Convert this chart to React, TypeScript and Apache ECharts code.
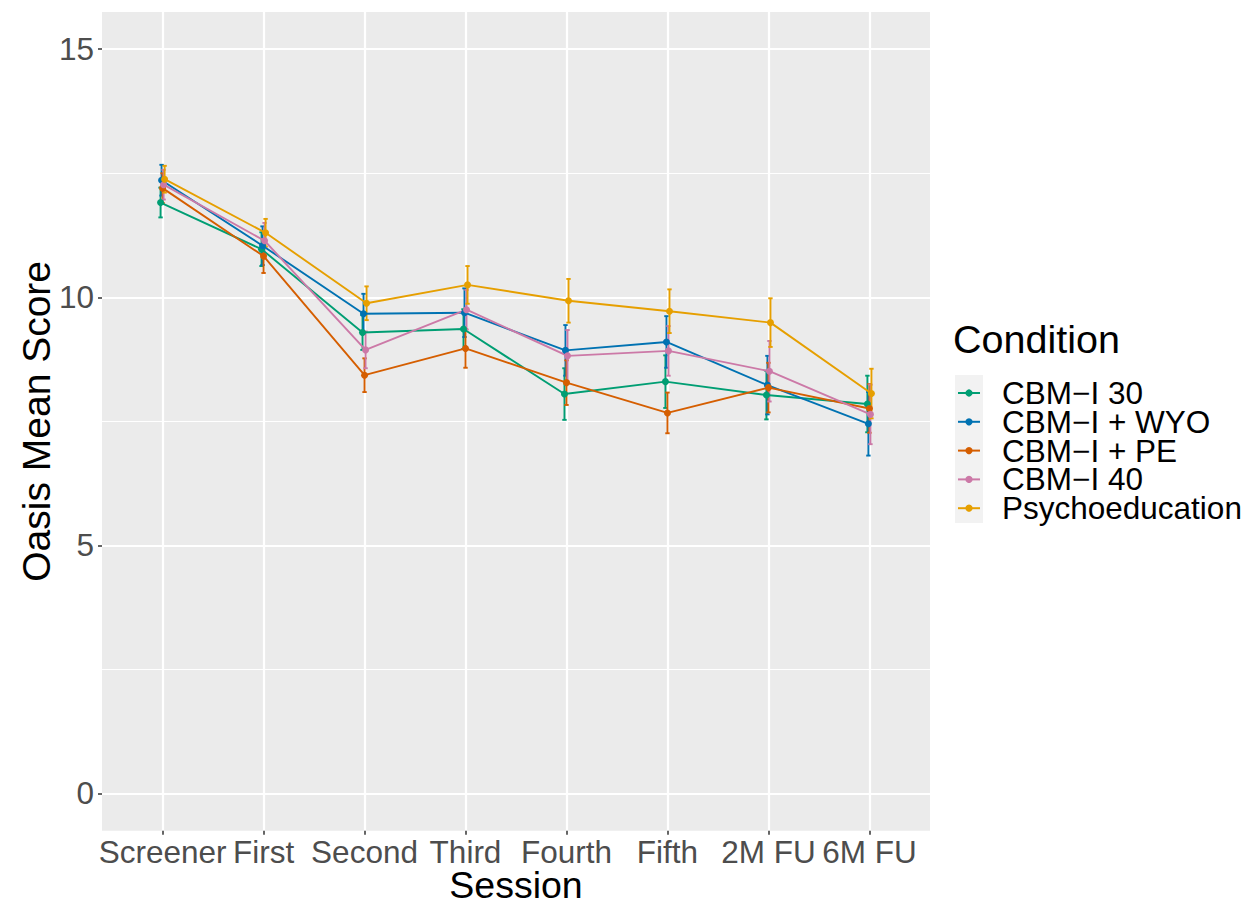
import React, { useEffect, useRef } from "react";
import * as echarts from "echarts";

const sessions = ["Screener", "First", "Second", "Third", "Fourth", "Fifth", "2M FU", "6M FU"];
const conditions = ["CBM−I 30", "CBM−I + WYO", "CBM−I + PE", "CBM−I 40", "Psychoeducation"];
const colors = ["#009E73", "#0072B2", "#D55E00", "#CC79A7", "#E69F00"];
const yTicks = [0, 5, 10, 15];

const meanCBM30 = [11.91, 10.97, 9.29, 9.36, 8.05, 8.3, 8.03, 7.85];
const seCBM30 = [0.3, 0.34, 0.35, 0.4, 0.52, 0.53, 0.49, 0.57];
const meanWYO = [12.36, 11.04, 9.67, 9.69, 8.93, 9.1, 8.23, 7.45];
const seWYO = [0.31, 0.39, 0.4, 0.49, 0.51, 0.52, 0.59, 0.64];
const meanPE = [12.2, 10.83, 8.43, 8.97, 8.28, 7.67, 8.18, 7.76];
const sePE = [0.3, 0.34, 0.34, 0.39, 0.45, 0.41, 0.5, 0.49];
const meanCBM40 = [12.27, 11.14, 8.94, 9.75, 8.82, 8.92, 8.51, 7.64];
const seCBM40 = [0.3, 0.36, 0.37, 0.4, 0.52, 0.5, 0.61, 0.6];
const meanPsy = [12.38, 11.3, 9.88, 10.25, 9.93, 9.72, 9.49, 8.06];
const sePsy = [0.27, 0.28, 0.34, 0.38, 0.44, 0.44, 0.49, 0.5];

const means = [meanCBM30, meanWYO, meanPE, meanCBM40, meanPsy];
const ses = [seCBM30, seWYO, sePE, seCBM40, sePsy];

const FONT = '"Liberation Sans", Arial, Helvetica, sans-serif';

export default function App() {
  const ref = useRef<HTMLDivElement>(null);
  useEffect(() => {
    if (!ref.current) return;
    const chart = echarts.init(ref.current, null, { renderer: "svg" });
    const dodgeStep = 0.01;
    const series: any[] = [];
    conditions.forEach((name, i) => {
      const off = (i - 2) * dodgeStep;
      series.push({
        type: "line",
        name,
        xAxisIndex: 0,
        yAxisIndex: 0,
        data: means[i].map((m, j) => [j + 1 + off, m]),
        symbol: "circle",
        symbolSize: 7,
        showSymbol: true,
        lineStyle: { width: 1.9, color: colors[i] },
        itemStyle: { color: colors[i] },
        emphasis: { disabled: true },
        z: 3,
      });
    });
    conditions.forEach((name, i) => {
      const off = (i - 2) * dodgeStep;
      const color = colors[i];
      series.push({
        type: "custom",
        name,
        xAxisIndex: 0,
        yAxisIndex: 0,
        data: means[i].map((m, j) => [j + 1 + off, m - ses[i][j], m + ses[i][j]]),
        encode: { x: 0, y: [1, 2] },
        z: 3,
        renderItem: (params: any, api: any) => {
          const x = api.value(0);
          const lo = api.coord([x, api.value(1)]);
          const hi = api.coord([x, api.value(2)]);
          const w = 2.2;
          const st = { stroke: color, lineWidth: 1.9 };
          return {
            type: "group",
            children: [
              { type: "line", shape: { x1: lo[0], y1: lo[1], x2: hi[0], y2: hi[1] }, style: st },
              { type: "line", shape: { x1: lo[0] - w, y1: lo[1], x2: lo[0] + w, y2: lo[1] }, style: st },
              { type: "line", shape: { x1: hi[0] - w, y1: hi[1], x2: hi[0] + w, y2: hi[1] }, style: st },
            ],
          };
        },
      });
    });

    const panelLeft = 102;
    const panelTop = 12;
    const panelW = 828;
    const panelH = 818.7;
    const unit = panelW / 8.2;

    chart.setOption({
      animation: false,
      textStyle: { fontFamily: FONT },
      title: {
        text: "Condition",
        left: 948,
        top: 313.5,
        textStyle: { fontSize: 39.5, fontWeight: "normal", color: "#000", fontFamily: FONT },
      },
      graphic: [
        {
          type: "rect",
          left: 955,
          top: 375,
          shape: { width: 28, height: 148 },
          style: { fill: "#F2F2F2" },
          z: 0,
        },
      ],
      legend: {
        orient: "vertical",
        left: 957,
        top: 377,
        padding: 0,
        itemGap: -3.2,
        itemWidth: 22,
        itemHeight: 9,
        selectedMode: false,
        data: conditions,
        z: 5,
        textStyle: {
          fontSize: 31.5,
          color: "#000",
          padding: [0, 0, 0, 17],
          fontFamily: FONT,
        },
      },
      grid: [
        {
          left: panelLeft,
          top: panelTop,
          width: panelW,
          height: panelH,
          show: true,
          backgroundColor: "#EBEBEB",
          borderWidth: 0,
          containLabel: false,
          outerBoundsMode: "none",
        },
        {
          left: panelLeft + 0.6 * unit,
          top: panelTop,
          width: 7 * unit,
          height: panelH,
          show: false,
          containLabel: false,
          outerBoundsMode: "none",
        },
      ],
      xAxis: [
        { type: "value", gridIndex: 0, min: 0.4, max: 8.6, show: false },
        {
          type: "category",
          gridIndex: 1,
          data: sessions,
          boundaryGap: false,
          position: "bottom",
          axisLine: { show: false, onZero: false },
          axisTick: { show: true, interval: 0, length: 4, lineStyle: { color: "#333333", width: 1.5 } },
          axisLabel: { interval: 0, fontSize: 31.5, color: "#4D4D4D", margin: 5, fontFamily: FONT },
          splitLine: { show: true, interval: 0, lineStyle: { color: "#FFFFFF", width: 2.2 } },
          name: "Session",
          nameLocation: "middle",
          nameGap: 35.5,
          nameMoveOverlap: false,
          nameTextStyle: { fontSize: 37.5, color: "#000", fontFamily: FONT },
        },
      ],
      yAxis: [
        {
          type: "value",
          gridIndex: 0,
          min: -0.75,
          max: 15.75,
          minInterval: 5,
          maxInterval: 5,
          splitNumber: 3,
          axisLine: { show: false, onZero: false },
          axisTick: { show: true, length: 4, lineStyle: { color: "#333333", width: 1.5 }, customValues: yTicks },
          axisLabel: {
            fontSize: 31.5,
            color: "#4D4D4D",
            margin: 8,
            showMinLabel: false,
            showMaxLabel: false,
            fontFamily: FONT,
          },
          splitLine: { show: true, lineStyle: { color: "#FFFFFF", width: 2.2 } },
          minorTick: { show: false, splitNumber: 2 },
          minorSplitLine: { show: true, lineStyle: { color: "#FFFFFF", width: 1.1 } },
          name: "Oasis Mean Score",
          nameLocation: "middle",
          nameGap: 45.7,
          nameMoveOverlap: false,
          nameTextStyle: { fontSize: 39, color: "#000", fontFamily: FONT },
        },
        { type: "value", gridIndex: 1, min: -0.75, max: 15.75, show: false },
      ],
      series,
    });
    return () => chart.dispose();
  }, []);
  return (
    <div
      ref={ref}
      style={{ position: "absolute", left: 0, top: 0, width: 1247, height: 906 }}
    />
  );
}
